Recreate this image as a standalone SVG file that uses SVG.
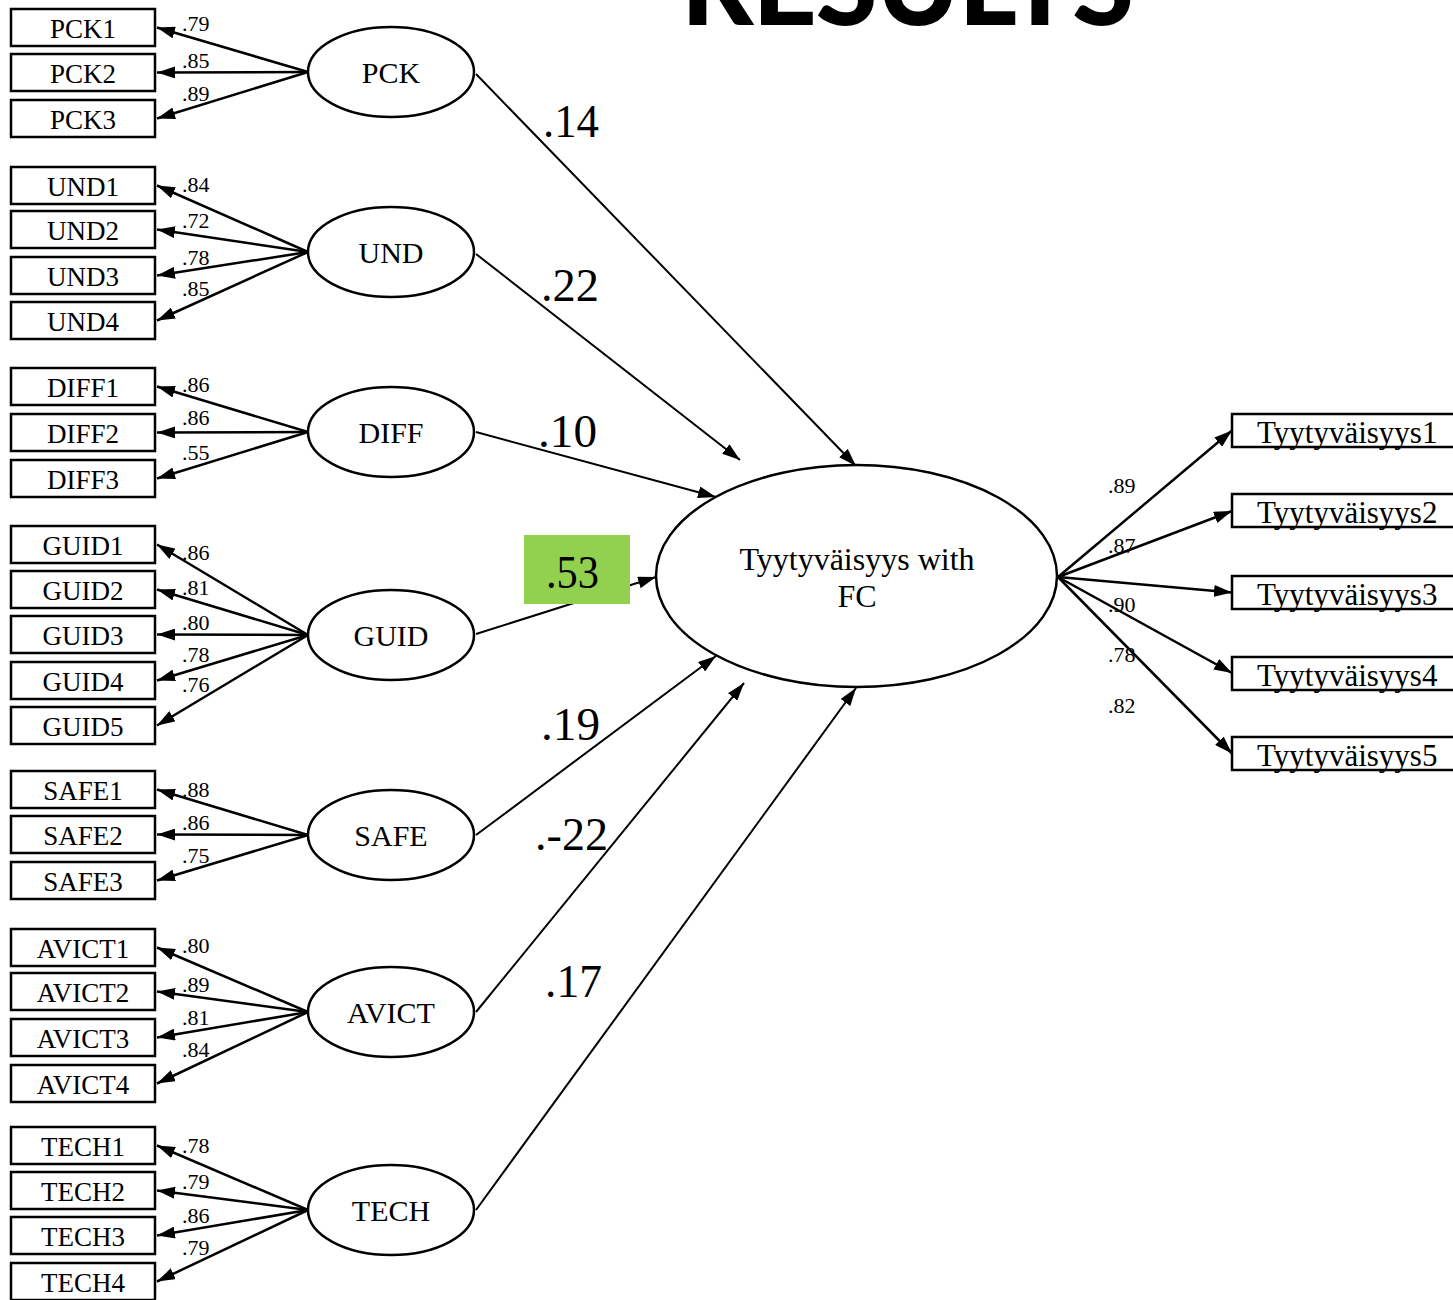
<svg xmlns="http://www.w3.org/2000/svg" width="1453" height="1300" viewBox="0 0 1453 1300">
<defs>
<marker id="ah" markerUnits="userSpaceOnUse" markerWidth="18" markerHeight="12" refX="18" refY="6" orient="auto"><path d="M0,0 L18,6 L0,12 z" fill="#000"/></marker>
<style>
.box{fill:#fff;stroke:#000;stroke-width:2.5}
.lat{fill:#fff;stroke:#000;stroke-width:2.5}
.ind{font-family:"Liberation Serif","Times New Roman",serif;font-size:27px;text-anchor:middle;fill:#000}
.ltx{font-family:"Liberation Serif","Times New Roman",serif;font-size:30px;text-anchor:middle;fill:#000}
.ctx{font-family:"Liberation Serif","Times New Roman",serif;font-size:32px;text-anchor:middle;fill:#000}
.rtx{font-family:"Liberation Serif","Times New Roman",serif;font-size:31px;fill:#000}
.ld{font-family:"Liberation Serif","Times New Roman",serif;font-size:22px;fill:#000}
.pc{font-family:"Liberation Serif","Times New Roman",serif;font-size:46px;fill:#000}
.la{stroke:#000;stroke-width:2.5;fill:none;marker-end:url(#ah)}
.sp{stroke:#000;stroke-width:2;fill:none;marker-end:url(#ah)}
</style>
</defs>
<rect width="1453" height="1300" fill="#fff"/>
<text x="681" y="25" font-family="Lato,'Open Sans',sans-serif" font-weight="900" font-size="112" textLength="453" lengthAdjust="spacing">RESULTS</text>

<g id="connectors">
<line class="la" x1="308" y1="72" x2="157" y2="27.5"/>
<line class="la" x1="308" y1="72" x2="157" y2="72.5"/>
<line class="la" x1="308" y1="72" x2="157" y2="118.5"/>
<line class="la" x1="308" y1="252" x2="157" y2="185.5"/>
<line class="la" x1="308" y1="252" x2="157" y2="229.5"/>
<line class="la" x1="308" y1="252" x2="157" y2="275.5"/>
<line class="la" x1="308" y1="252" x2="157" y2="320.5"/>
<line class="la" x1="308" y1="432" x2="157" y2="386.5"/>
<line class="la" x1="308" y1="432" x2="157" y2="432.5"/>
<line class="la" x1="308" y1="432" x2="157" y2="478.5"/>
<line class="la" x1="308" y1="635" x2="157" y2="544.5"/>
<line class="la" x1="308" y1="635" x2="157" y2="589.5"/>
<line class="la" x1="308" y1="635" x2="157" y2="634.5"/>
<line class="la" x1="308" y1="635" x2="157" y2="680.5"/>
<line class="la" x1="308" y1="635" x2="157" y2="725.5"/>
<line class="la" x1="308" y1="835" x2="157" y2="789.5"/>
<line class="la" x1="308" y1="835" x2="157" y2="834.5"/>
<line class="la" x1="308" y1="835" x2="157" y2="880.5"/>
<line class="la" x1="308" y1="1012" x2="157" y2="947.5"/>
<line class="la" x1="308" y1="1012" x2="157" y2="991.5"/>
<line class="la" x1="308" y1="1012" x2="157" y2="1037.5"/>
<line class="la" x1="308" y1="1012" x2="157" y2="1083.5"/>
<line class="la" x1="308" y1="1210" x2="157" y2="1145.5"/>
<line class="la" x1="308" y1="1210" x2="157" y2="1190.5"/>
<line class="la" x1="308" y1="1210" x2="157" y2="1235.5"/>
<line class="la" x1="308" y1="1210" x2="157" y2="1281.5"/>
<line class="sp" x1="476" y1="74" x2="856" y2="466"/>
<line class="sp" x1="476" y1="254" x2="740" y2="460"/>
<line class="sp" x1="476" y1="432" x2="716" y2="497"/>
<line class="sp" x1="476" y1="634" x2="656" y2="577"/>
<line class="sp" x1="476" y1="835" x2="716" y2="656"/>
<line class="sp" x1="476" y1="1012" x2="744" y2="683"/>
<line class="sp" x1="476" y1="1210" x2="856" y2="688"/>
<line class="la" x1="1058" y1="577" x2="1232" y2="430.5"/>
<line class="la" x1="1058" y1="577" x2="1232" y2="511"/>
<line class="la" x1="1058" y1="577" x2="1232" y2="592.5"/>
<line class="la" x1="1058" y1="577" x2="1232" y2="673"/>
<line class="la" x1="1058" y1="577" x2="1232" y2="753.5"/>
</g>

<g id="loading-labels">
<text class="ld" x="182" y="31">.79</text>
<text class="ld" x="182" y="68">.85</text>
<text class="ld" x="182" y="101">.89</text>
<text class="ld" x="182" y="192">.84</text>
<text class="ld" x="182" y="228">.72</text>
<text class="ld" x="182" y="265">.78</text>
<text class="ld" x="182" y="296">.85</text>
<text class="ld" x="182" y="392">.86</text>
<text class="ld" x="182" y="425">.86</text>
<text class="ld" x="182" y="460">.55</text>
<text class="ld" x="182" y="560">.86</text>
<text class="ld" x="182" y="595">.81</text>
<text class="ld" x="182" y="630">.80</text>
<text class="ld" x="182" y="662">.78</text>
<text class="ld" x="182" y="692">.76</text>
<text class="ld" x="182" y="797">.88</text>
<text class="ld" x="182" y="830">.86</text>
<text class="ld" x="182" y="863">.75</text>
<text class="ld" x="182" y="953">.80</text>
<text class="ld" x="182" y="992">.89</text>
<text class="ld" x="182" y="1025">.81</text>
<text class="ld" x="182" y="1057">.84</text>
<text class="ld" x="182" y="1153">.78</text>
<text class="ld" x="182" y="1189">.79</text>
<text class="ld" x="182" y="1223">.86</text>
<text class="ld" x="182" y="1255">.79</text>
<text class="ld" x="1108" y="493">.89</text>
<text class="ld" x="1108" y="553">.87</text>
<text class="ld" x="1108" y="612">.90</text>
<text class="ld" x="1108" y="662">.78</text>
<text class="ld" x="1108" y="713">.82</text>
</g>

<g id="path-labels">
<text class="pc" x="543" y="137" textLength="56" lengthAdjust="spacingAndGlyphs">.14</text>
<text class="pc" x="541" y="301" textLength="58" lengthAdjust="spacingAndGlyphs">.22</text>
<text class="pc" x="538" y="447" textLength="59" lengthAdjust="spacingAndGlyphs">.10</text>
<rect x="524" y="535" width="106" height="69" fill="#92D050"/>
<text class="pc" x="546" y="588" textLength="53" lengthAdjust="spacingAndGlyphs">.53</text>
<text class="pc" x="541" y="740" textLength="59" lengthAdjust="spacingAndGlyphs">.19</text>
<text class="pc" x="535" y="850" textLength="73" lengthAdjust="spacingAndGlyphs">.-22</text>
<text class="pc" x="545" y="997" textLength="57" lengthAdjust="spacingAndGlyphs">.17</text>
</g>

<g id="PCK">
<ellipse class="lat" cx="391" cy="72" rx="83" ry="45"/><text class="ltx" x="391" y="83">PCK</text>
<rect class="box" x="11" y="9" width="144" height="37"/><text class="ind" x="83" y="38">PCK1</text>
<rect class="box" x="11" y="54" width="144" height="37"/><text class="ind" x="83" y="83">PCK2</text>
<rect class="box" x="11" y="100" width="144" height="37"/><text class="ind" x="83" y="129">PCK3</text>
</g>
<g id="UND">
<ellipse class="lat" cx="391" cy="252" rx="83" ry="45"/><text class="ltx" x="391" y="263">UND</text>
<rect class="box" x="11" y="167" width="144" height="37"/><text class="ind" x="83" y="196">UND1</text>
<rect class="box" x="11" y="211" width="144" height="37"/><text class="ind" x="83" y="240">UND2</text>
<rect class="box" x="11" y="257" width="144" height="37"/><text class="ind" x="83" y="286">UND3</text>
<rect class="box" x="11" y="302" width="144" height="37"/><text class="ind" x="83" y="331">UND4</text>
</g>
<g id="DIFF">
<ellipse class="lat" cx="391" cy="432" rx="83" ry="45"/><text class="ltx" x="391" y="443">DIFF</text>
<rect class="box" x="11" y="368" width="144" height="37"/><text class="ind" x="83" y="397">DIFF1</text>
<rect class="box" x="11" y="414" width="144" height="37"/><text class="ind" x="83" y="443">DIFF2</text>
<rect class="box" x="11" y="460" width="144" height="37"/><text class="ind" x="83" y="489">DIFF3</text>
</g>
<g id="GUID">
<ellipse class="lat" cx="391" cy="635" rx="83" ry="45"/><text class="ltx" x="391" y="646">GUID</text>
<rect class="box" x="11" y="526" width="144" height="37"/><text class="ind" x="83" y="555">GUID1</text>
<rect class="box" x="11" y="571" width="144" height="37"/><text class="ind" x="83" y="600">GUID2</text>
<rect class="box" x="11" y="616" width="144" height="37"/><text class="ind" x="83" y="645">GUID3</text>
<rect class="box" x="11" y="662" width="144" height="37"/><text class="ind" x="83" y="691">GUID4</text>
<rect class="box" x="11" y="707" width="144" height="37"/><text class="ind" x="83" y="736">GUID5</text>
</g>
<g id="SAFE">
<ellipse class="lat" cx="391" cy="835" rx="83" ry="45"/><text class="ltx" x="391" y="846">SAFE</text>
<rect class="box" x="11" y="771" width="144" height="37"/><text class="ind" x="83" y="800">SAFE1</text>
<rect class="box" x="11" y="816" width="144" height="37"/><text class="ind" x="83" y="845">SAFE2</text>
<rect class="box" x="11" y="862" width="144" height="37"/><text class="ind" x="83" y="891">SAFE3</text>
</g>
<g id="AVICT">
<ellipse class="lat" cx="391" cy="1012" rx="83" ry="45"/><text class="ltx" x="391" y="1023">AVICT</text>
<rect class="box" x="11" y="929" width="144" height="37"/><text class="ind" x="83" y="958">AVICT1</text>
<rect class="box" x="11" y="973" width="144" height="37"/><text class="ind" x="83" y="1002">AVICT2</text>
<rect class="box" x="11" y="1019" width="144" height="37"/><text class="ind" x="83" y="1048">AVICT3</text>
<rect class="box" x="11" y="1065" width="144" height="37"/><text class="ind" x="83" y="1094">AVICT4</text>
</g>
<g id="TECH">
<ellipse class="lat" cx="391" cy="1210" rx="83" ry="45"/><text class="ltx" x="391" y="1221">TECH</text>
<rect class="box" x="11" y="1127" width="144" height="37"/><text class="ind" x="83" y="1156">TECH1</text>
<rect class="box" x="11" y="1172" width="144" height="37"/><text class="ind" x="83" y="1201">TECH2</text>
<rect class="box" x="11" y="1217" width="144" height="37"/><text class="ind" x="83" y="1246">TECH3</text>
<rect class="box" x="11" y="1263" width="144" height="37"/><text class="ind" x="83" y="1292">TECH4</text>
</g>
<g id="Tyytyvaisyys">
<ellipse class="lat" cx="856.5" cy="576" rx="200.5" ry="111"/>
<text class="ctx" x="857" y="570">Tyytyväisyys with</text>
<text class="ctx" x="857" y="607">FC</text>
<rect class="box" x="1232" y="414" width="240" height="33"/><text class="rtx" x="1257" y="443">Tyytyväisyys1</text>
<rect class="box" x="1232" y="494" width="240" height="33"/><text class="rtx" x="1257" y="523">Tyytyväisyys2</text>
<rect class="box" x="1232" y="576" width="240" height="33"/><text class="rtx" x="1257" y="605">Tyytyväisyys3</text>
<rect class="box" x="1232" y="657" width="240" height="33"/><text class="rtx" x="1257" y="686">Tyytyväisyys4</text>
<rect class="box" x="1232" y="737" width="240" height="33"/><text class="rtx" x="1257" y="766">Tyytyväisyys5</text>
</g>
</svg>
